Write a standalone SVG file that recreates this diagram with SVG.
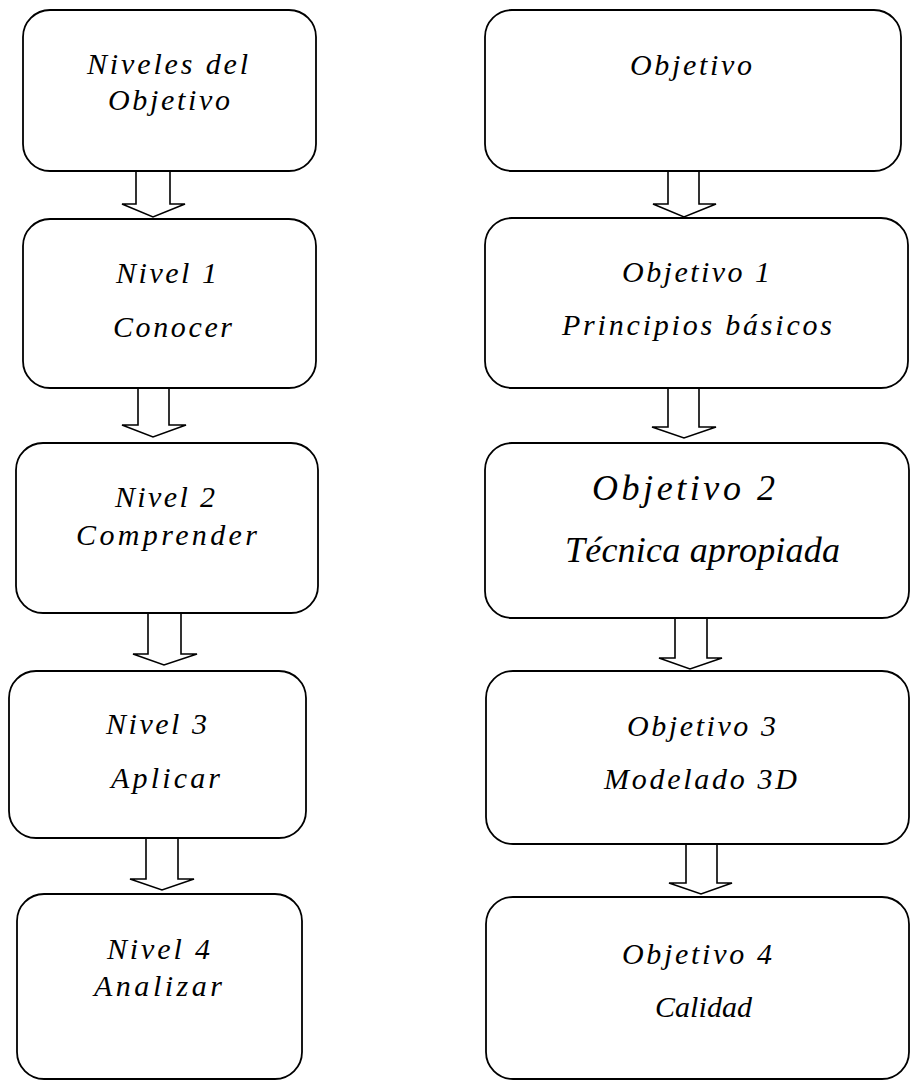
<svg xmlns="http://www.w3.org/2000/svg" width="911" height="1081" viewBox="0 0 911 1081">
<style>
.box{fill:#fff;stroke:#000;stroke-width:1.8}
.arr{fill:#fff;stroke:#000;stroke-width:1.6;stroke-linejoin:miter}
text{font-family:"Liberation Serif","DejaVu Serif",serif;font-style:italic;font-size:30px;fill:#000}
.big{font-size:36px}
</style>
<rect width="911" height="1081" fill="#fff"/>
<g id="connectors">
<polygon class="arr" points="136,171 170,171 170,204 185,204 153,217 122,204 136,204"/>
<polygon class="arr" points="138,388 169,388 169,425 186,425 153,437 122,425 138,425"/>
<polygon class="arr" points="148,613 181,613 181,654 197,654 164,665 133,654 148,654"/>
<polygon class="arr" points="146,838 178,838 178,879 194,879 162,890 130,879 146,879"/>
<polygon class="arr" points="668,171 699,171 699,204 716,204 684,217 653,204 668,204"/>
<polygon class="arr" points="668,388 699,388 699,427 716,427 684,438 652,427 668,427"/>
<polygon class="arr" points="675,618 707,618 707,658 722,658 690,669 659,658 675,658"/>
<polygon class="arr" points="686,844 717,844 717,883 732,883 701,894 669,883 686,883"/>
</g>
<g id="n1">
<rect class="box" x="23" y="10" width="293" height="161" rx="27"/>
<text x="87" y="74" textLength="161">Niveles del</text>
<text x="108" y="110" textLength="122">Objetivo</text>
</g>
<g id="n2">
<rect class="box" x="23" y="219" width="293" height="169" rx="27"/>
<text x="116" y="283" textLength="101">Nivel 1</text>
<text x="113" y="337" textLength="119">Conocer</text>
</g>
<g id="n3">
<rect class="box" x="16" y="443" width="302" height="170" rx="27"/>
<text x="115" y="507" textLength="100">Nivel 2</text>
<text x="76" y="545" textLength="181">Comprender</text>
</g>
<g id="n4">
<rect class="box" x="9" y="671" width="297" height="167" rx="27"/>
<text x="106" y="734" textLength="101">Nivel 3</text>
<text x="111" y="788" textLength="109">Aplicar</text>
</g>
<g id="n5">
<rect class="box" x="17" y="894" width="285" height="185" rx="27"/>
<text x="107" y="959" textLength="103">Nivel 4</text>
<text x="94" y="996" textLength="128">Analizar</text>
</g>
<g id="o1">
<rect class="box" x="485" y="10" width="416" height="161" rx="27"/>
<text x="630" y="75" textLength="122">Objetivo</text>
</g>
<g id="o2">
<rect class="box" x="485" y="218" width="423" height="170" rx="27"/>
<text x="622" y="282" textLength="148">Objetivo 1</text>
<text x="562" y="335" textLength="270">Principios básicos</text>
</g>
<g id="o3">
<rect class="box" x="485" y="443" width="424" height="175" rx="27"/>
<text class="big" x="592" y="500" textLength="183">Objetivo 2</text>
<text class="big" x="565" y="562" textLength="275">Técnica apropiada</text>
</g>
<g id="o4">
<rect class="box" x="486" y="671" width="423" height="173" rx="27"/>
<text x="627" y="736" textLength="149">Objetivo 3</text>
<text x="604" y="789" textLength="193">Modelado 3D</text>
</g>
<g id="o5">
<rect class="box" x="486" y="897" width="423" height="182" rx="27"/>
<text x="622" y="964" textLength="150">Objetivo 4</text>
<text x="655" y="1017" textLength="97">Calidad</text>
</g>
</svg>
